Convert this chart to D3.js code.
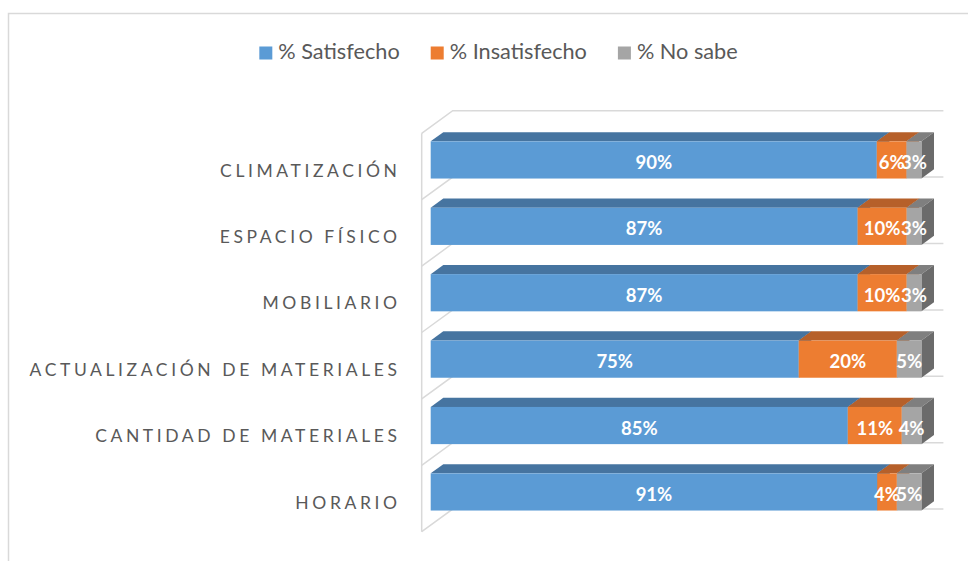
<!DOCTYPE html>
<html>
<head>
<meta charset="utf-8">
<script src="https://cdn.jsdelivr.net/npm/d3@7"></script>
<style>
  html, body { margin: 0; padding: 0; background: #fff; }
  svg { display: block; font-family: Lato, "Open Sans", sans-serif; }
</style>
</head>
<body>
<div id="chart"></div>
<script>
// datos
const categories = ["CLIMATIZACIÓN", "ESPACIO FÍSICO", "MOBILIARIO", "ACTUALIZACIÓN DE MATERIALES", "CANTIDAD DE MATERIALES", "HORARIO"];
const satisfecho = [90, 87, 87, 75, 85, 91];
const insatisfecho = [6, 10, 10, 20, 11, 4];
const noSabe = [3, 3, 3, 5, 4, 5];
const seriesNames = ["% Satisfecho", "% Insatisfecho", "% No sabe"];

const W = 968, H = 561;
const front = ["#5B9BD5", "#ED7D31", "#A5A5A5"];
const top_ = ["#4674A0", "#B6602A", "#7F7F7F"];
const side = ["#41709B", "#B35A22", "#6B6B6B"];

const svg = d3.select("#chart").append("svg").attr("width", W).attr("height", H);

// marco del gráfico
svg.append("rect").attr("x", 8.5).attr("y", 13.5).attr("width", 1000).attr("height", 600)
    .attr("fill", "none").attr("stroke", "#D9D9D9").attr("stroke-width", 1.5);

const rows = categories.map((c, i) => ({cat: c, s: satisfecho[i], i_: insatisfecho[i], n: noSabe[i]}));
const stack = d3.stack().keys(["s", "i_", "n"]).offset(d3.stackOffsetExpand);
const stacked = stack(rows);

// plano frontal de la pared
const x = d3.scaleLinear().domain([0, 1]).range([421.7, 912.4]);
const y = d3.scaleBand().domain(categories).range([133.3, 531.7]).paddingInner(0.44).paddingOuter(0.22);
const depthX = 31, depthY = -22.6;
const d1 = 9 / 31, d2 = 21.6 / 31;
const P = (px, py, d) => [px + d * depthX, py + d * depthY];

// pared y lineas de division
const step = y.step();
const y0 = 133.3;
const grid = svg.append("g").attr("stroke", "#D9D9D9").attr("stroke-width", 1.5).attr("fill", "none");
for (let k = 0; k <= categories.length; k++) {
    const yy = y0 + k * step;
    const b0 = P(x(0), yy, 1), b1 = P(x(1), yy, 1);
    grid.append("path").attr("d", `M${x(0)},${yy}L${b0[0]},${b0[1]}L${b1[0]},${b1[1]}`);
}
grid.append("line").attr("x1", x(0)).attr("x2", x(0)).attr("y1", y0).attr("y2", y0 + categories.length * step);

// barras 3D
const poly = pts => "M" + pts.map(p => p.join(",")).join("L") + "Z";
const bars = svg.append("g");
stacked.forEach((ser, si) => {
    ser.forEach((d, ci) => {
        const cat = categories[ci];
        const yt = y(cat), yb = y(cat) + y.bandwidth();
        const xa = x(d[0]), xb = x(d[1]);
        const g = bars.append("g");
        g.append("path").attr("fill", top_[si])
            .attr("d", poly([P(xa, yt, d1), P(xb, yt, d1), P(xb, yt, d2), P(xa, yt, d2)]));
        g.append("path").attr("fill", side[si])
            .attr("d", poly([P(xb, yt, d1), P(xb, yt, d2), P(xb, yb, d2), P(xb, yb, d1)]));
        const f = P(xa, yt, d1);
        g.append("rect").attr("x", f[0]).attr("y", f[1]).attr("width", xb - xa).attr("height", y.bandwidth())
            .attr("fill", front[si]);
    });
});

// etiquetas de valores
const rawVals = [satisfecho, insatisfecho, noSabe];
const labels = svg.append("g").attr("fill", "#fff").attr("font-weight", "bold")
    .attr("font-size", 18.5).attr("text-anchor", "middle");
stacked.forEach((ser, si) => {
    ser.forEach((d, ci) => {
        const cat = categories[ci];
        const c = P((x(d[0]) + x(d[1])) / 2, y(cat) + y.bandwidth() / 2, d1);
        labels.append("text").attr("x", c[0]).attr("y", c[1] + 9).text(rawVals[si][ci] + "%");
    });
});

// etiquetas de categorias
const spacing = 3.6;
svg.append("g").attr("fill", "#595959").attr("font-size", 17.5).attr("text-anchor", "end")
    .selectAll("text").data(categories).join("text")
    .attr("x", 397 + spacing)
    .attr("y", d => y(d) + y.bandwidth() / 2 + 10)
    .attr("letter-spacing", spacing)
    .text(d => d);

// leyenda
const leg = svg.append("g").attr("font-size", 21.7).attr("fill", "#595959");
let lx = 0;
seriesNames.forEach((name, i) => {
    const it = leg.append("g");
    it.append("rect").attr("x", 0).attr("y", -12.5).attr("width", 13).attr("height", 13).attr("fill", front[i]);
    const t = it.append("text").attr("x", 19).attr("y", 0).text(name);
    const w = 19 + t.node().getComputedTextLength();
    it.attr("transform", `translate(${lx},0)`);
    lx += w + 31;
});
const totalW = lx - 31;
leg.attr("transform", `translate(${498.5 - totalW / 2},59)`);
</script>
</body>
</html>
